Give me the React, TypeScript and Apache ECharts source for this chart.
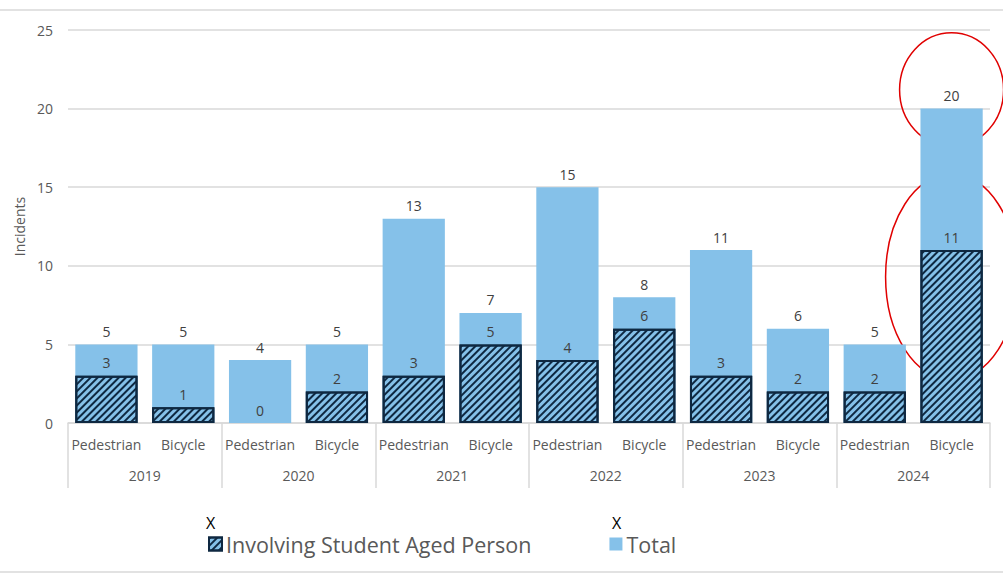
import React, { useEffect, useRef } from "react";
import * as echarts from "echarts";

const modes = ["Pedestrian", "Bicycle", "Pedestrian", "Bicycle", "Pedestrian", "Bicycle", "Pedestrian", "Bicycle", "Pedestrian", "Bicycle", "Pedestrian", "Bicycle"];
const years = ["2019", "2020", "2021", "2022", "2023", "2024"];
const totals = [5, 5, 4, 5, 13, 7, 15, 8, 11, 6, 5, 20];
const student = [3, 1, 0, 2, 3, 5, 4, 6, 3, 2, 2, 11];
const yTicks = [0, 5, 10, 15, 20, 25];

const LIGHT = "#85C1E9";
const NAVY = "#0E2841";
const GRAY = "#595959";
const FONT = "Open Sans";

export default function App() {
  const ref = useRef<HTMLDivElement>(null);
  useEffect(() => {
    if (!ref.current) return;
    const chart = echarts.init(ref.current, null, { renderer: "svg" });
    const decal = {
      symbol: "rect",
      symbolSize: 1,
      color: NAVY,
      dashArrayX: [1, 0],
      dashArrayY: [2, 3],
      rotation: -Math.PI / 4,
    };
    chart.setOption({
      animation: false,
      textStyle: { fontFamily: FONT },
      grid: { left: 68, right: 13, top: 30, bottom: 156 },
      legend: {
        left: 203,
        top: 528,
        itemWidth: 13,
        itemHeight: 13,
        itemGap: 78,
        icon: "rect",
        data: ["Involving Student Aged Person", "Total"],
        textStyle: { fontSize: 21.5, color: GRAY, fontFamily: FONT, padding: [0, 0, 0, -1] },
      },
      xAxis: [
        {
          type: "category",
          data: modes,
          axisLine: { lineStyle: { color: "#d9d9d9", width: 1.5 } },
          axisTick: { show: false },
          axisLabel: { color: GRAY, fontSize: 14, margin: 14, interval: 0 },
        },
        {
          type: "category",
          data: years,
          position: "bottom",
          axisLine: { show: false },
          axisTick: { show: true, length: 65, interval: 0, lineStyle: { color: "#d9d9d9", width: 1.5 } },
          axisLabel: { color: GRAY, fontSize: 14, margin: 45, interval: 0 },
        },
      ],
      yAxis: {
        type: "value",
        min: yTicks[0],
        max: yTicks[yTicks.length - 1],
        interval: 5,
        name: "Incidents",
        nameLocation: "middle",
        nameGap: 42,
        nameTextStyle: { color: GRAY, fontSize: 14 },
        axisLine: { show: false },
        axisTick: { show: false },
        axisLabel: { color: GRAY, fontSize: 14, margin: 15 },
        splitLine: { lineStyle: { color: "#d9d9d9", width: 1.5 } },
      },
      series: [
        {
          name: "Total",
          type: "bar",
          xAxisIndex: 0,
          data: totals,
          barCategoryGap: "19%",
          itemStyle: { color: LIGHT },
          label: { show: true, position: "top", distance: 6, color: "#404040", fontSize: 14 },
        },
        {
          name: "Involving Student Aged Person",
          type: "bar",
          xAxisIndex: 0,
          barGap: "-100%",
          barCategoryGap: "19%",
          data: student.map((v) => (v === 0 ? { value: v, itemStyle: { borderWidth: 0 } } : v)),
          itemStyle: { color: LIGHT, borderColor: NAVY, borderWidth: 2, decal },
          label: { show: true, position: "top", distance: 6, color: "#404040", fontSize: 14 },
        },
      ],
    });
    const c20 = chart.convertToPixel({ xAxisIndex: 0, yAxisIndex: 0 }, [11, 21.2]) as number[];
    const c11 = chart.convertToPixel({ xAxisIndex: 0, yAxisIndex: 0 }, [11, 9.3]) as number[];
    chart.setOption({
      graphic: [
        { type: "line", shape: { x1: 0, y1: 10, x2: 1003, y2: 10 }, style: { stroke: "#d9d9d9", lineWidth: 1.5 } },
        { type: "line", shape: { x1: 0, y1: 572, x2: 1003, y2: 572 }, style: { stroke: "#d9d9d9", lineWidth: 1.5 } },
        { type: "text", x: 206, y: 515, style: { text: "X", fontSize: 16, fill: "#000", fontFamily: FONT } },
        { type: "text", x: 612, y: 515, style: { text: "X", fontSize: 16, fill: "#000", fontFamily: FONT } },
        { type: "ellipse", shape: { cx: c20[0], cy: c20[1], rx: 52, ry: 57 }, style: { fill: "none", stroke: "#e00000", lineWidth: 1.5 } },
        { type: "ellipse", shape: { cx: c11[0], cy: c11[1], rx: 66, ry: 103 }, style: { fill: "none", stroke: "#e00000", lineWidth: 1.5 } },
      ],
    });
    return () => chart.dispose();
  }, []);
  return <div ref={ref} style={{ position: "fixed", left: 0, top: 0, width: 1003, height: 579, background: "#fff" }} />;
}
